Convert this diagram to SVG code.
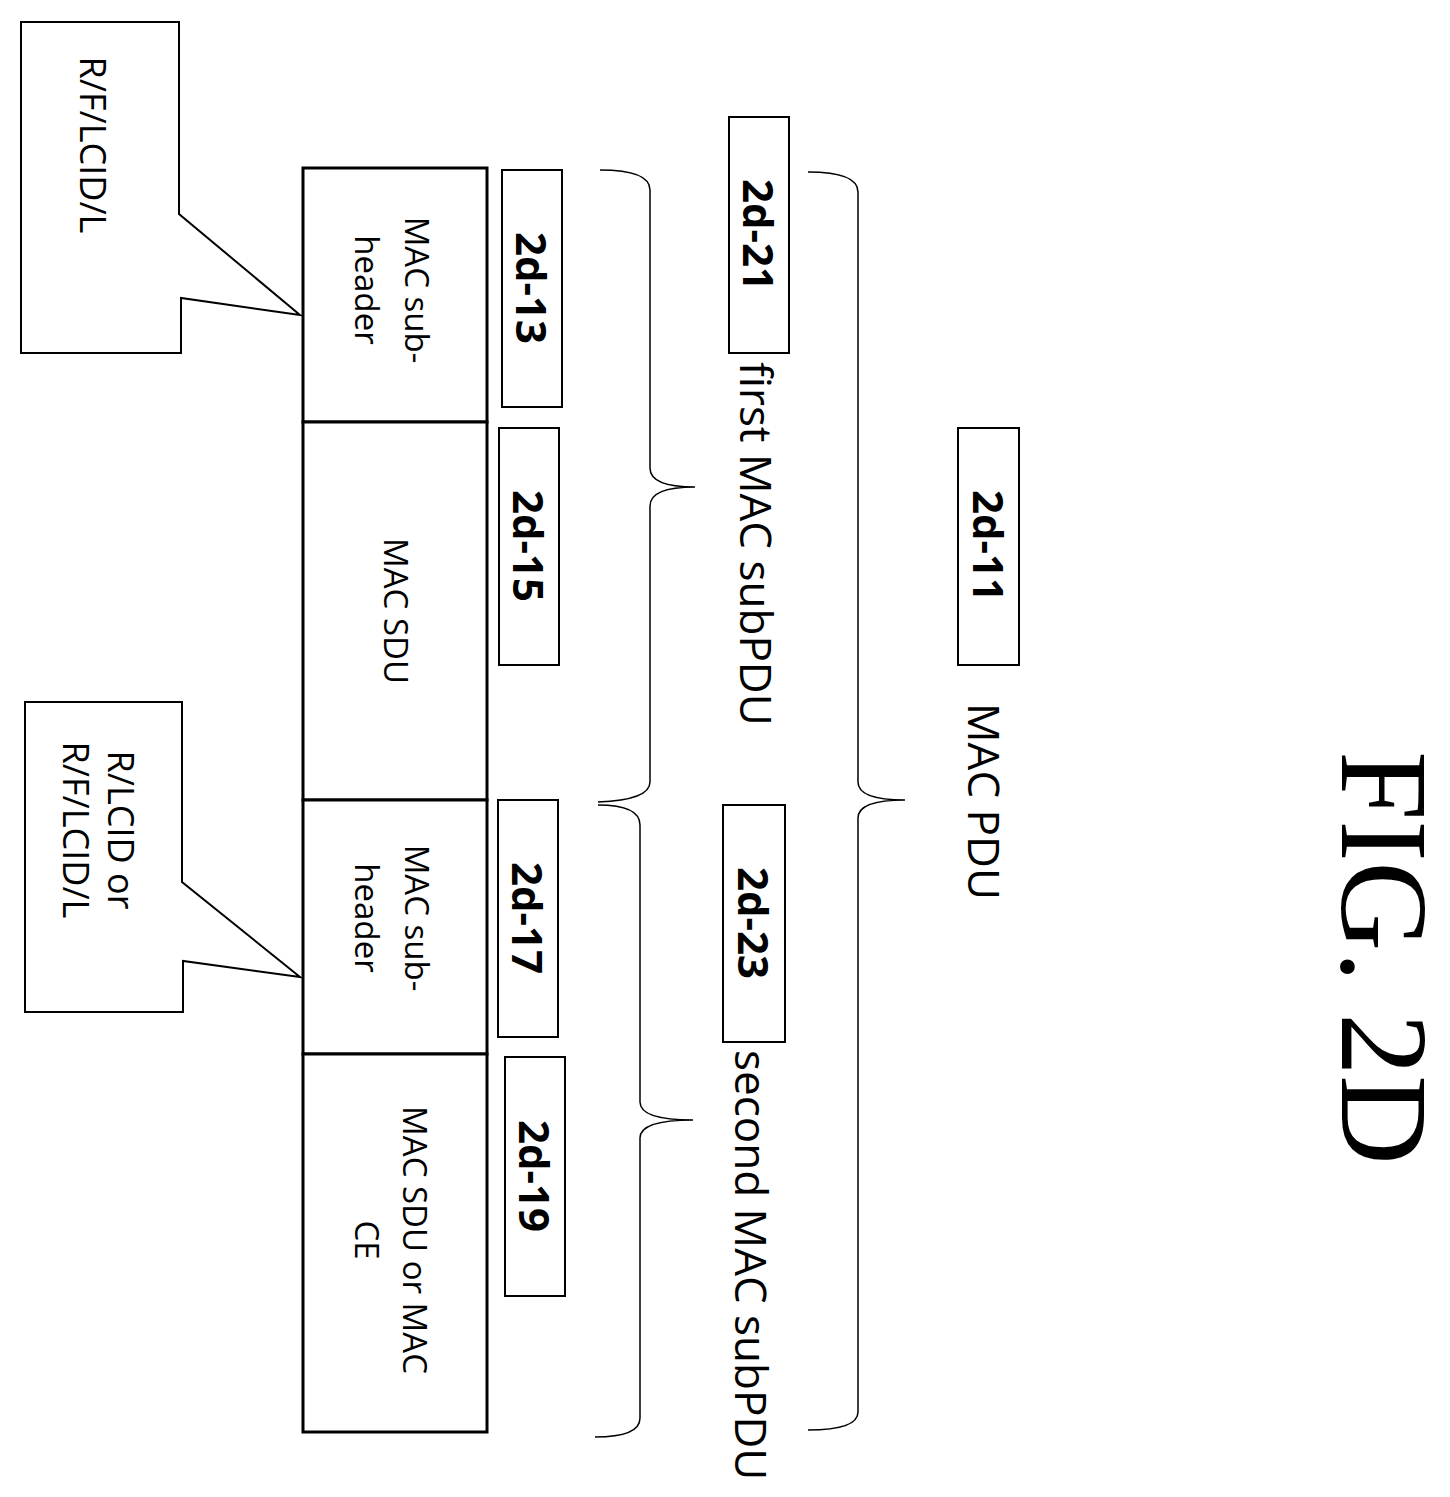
<svg xmlns="http://www.w3.org/2000/svg" width="1450" height="1497" viewBox="0 0 1450 1497">
<style>
.t{font-family:"Open Sans","Noto Sans",sans-serif;font-size:33px;fill:#000}
.c{font-family:"Open Sans","Noto Sans",sans-serif;font-size:36px;fill:#000}
.b{font-family:"Open Sans","Noto Sans",sans-serif;font-size:42px;font-weight:bold;fill:#000}
.l{font-family:"Open Sans","Noto Sans",sans-serif;font-size:44px;fill:#000}
.box{fill:#fff;stroke:#000;stroke-width:3}
.lab{fill:#fff;stroke:#000;stroke-width:2}
.br{fill:none;stroke:#000;stroke-width:1.5}
</style>
<rect width="1450" height="1497" fill="#fff"/>
<g id="callout1"><polygon class="lab" stroke-width="1.5" points="21,22 179,22 179,214 300,315 181,298 181,353 21,353"/>
<text class="c" transform="translate(80,145) rotate(90)" text-anchor="middle">R/F/LCID/L</text></g>
<g id="callout2"><polygon class="lab" stroke-width="1.5" points="25,702 182,702 182,882 300,977 183,961 183,1012 25,1012"/>
<text class="c" transform="translate(108,830) rotate(90)" text-anchor="middle">R/LCID or</text>
<text class="c" transform="translate(63,830) rotate(90)" text-anchor="middle">R/F/LCID/L</text></g>
<g id="hdr1"><rect class="box" x="303" y="168" width="184" height="254"/>
<text class="t" transform="translate(405,290) rotate(90)" text-anchor="middle">MAC sub-</text>
<text class="t" transform="translate(355,290) rotate(90)" text-anchor="middle">header</text></g>
<g id="sdu1"><rect class="box" x="303" y="422" width="184" height="378"/>
<text class="t" transform="translate(384,611) rotate(90)" text-anchor="middle">MAC SDU</text></g>
<g id="hdr2"><rect class="box" x="303" y="800" width="184" height="254"/>
<text class="t" transform="translate(405,918) rotate(90)" text-anchor="middle">MAC sub-</text>
<text class="t" transform="translate(355,918) rotate(90)" text-anchor="middle">header</text></g>
<g id="sdu2"><rect class="box" x="303" y="1054" width="184" height="378"/>
<text class="t" transform="translate(403,1240) rotate(90)" text-anchor="middle">MAC SDU or MAC</text>
<text class="t" transform="translate(355,1240) rotate(90)" text-anchor="middle">CE</text></g>
<g id="l13"><rect class="lab" x="502" y="170" width="60" height="237"/><text class="b" transform="translate(516,288) rotate(90)" text-anchor="middle">2d-13</text></g>
<g id="l15"><rect class="lab" x="499" y="428" width="60" height="237"/><text class="b" transform="translate(513,546) rotate(90)" text-anchor="middle">2d-15</text></g>
<g id="l17"><rect class="lab" x="498" y="800" width="60" height="237"/><text class="b" transform="translate(512,918) rotate(90)" text-anchor="middle">2d-17</text></g>
<g id="l19"><rect class="lab" x="505" y="1057" width="60" height="239"/><text class="b" transform="translate(519,1176) rotate(90)" text-anchor="middle">2d-19</text></g>
<g id="l21"><rect class="lab" x="729" y="117" width="60" height="236"/><text class="b" transform="translate(743,235) rotate(90)" text-anchor="middle">2d-21</text></g>
<g id="l23"><rect class="lab" x="723" y="805" width="62" height="237"/><text class="b" transform="translate(738,923) rotate(90)" text-anchor="middle">2d-23</text></g>
<g id="l11"><rect class="lab" x="958" y="428" width="61" height="237"/><text class="b" transform="translate(973,546) rotate(90)" text-anchor="middle">2d-11</text></g>
<g id="texts">
<text class="l" transform="translate(740,362) rotate(90)">first MAC subPDU</text>
<text class="l" transform="translate(735,1050) rotate(90)">second MAC subPDU</text>
<text class="l" transform="translate(968,703) rotate(90)">MAC PDU</text>
<text transform="translate(1342,958) rotate(90)" text-anchor="middle" font-family="Liberation Serif,serif" font-size="124">FIG. 2D</text>
</g>
<g id="connectors">
<path class="br" d="M600,170 Q650,170 650,190 L650,468 Q650,487 695,487 Q650,487 650,506 L650,782 Q650,800 598,802"/>
<path class="br" d="M598,805 Q640,805 640,825 L640,1102 Q640,1120 693,1120 Q640,1120 640,1138 L640,1418 Q640,1437 595,1437"/>
<path class="br" d="M808,172 Q858,172 858,192 L858,782 Q858,800 905,800 Q858,800 858,818 L858,1412 Q858,1430 808,1430"/>
</g>
</svg>
